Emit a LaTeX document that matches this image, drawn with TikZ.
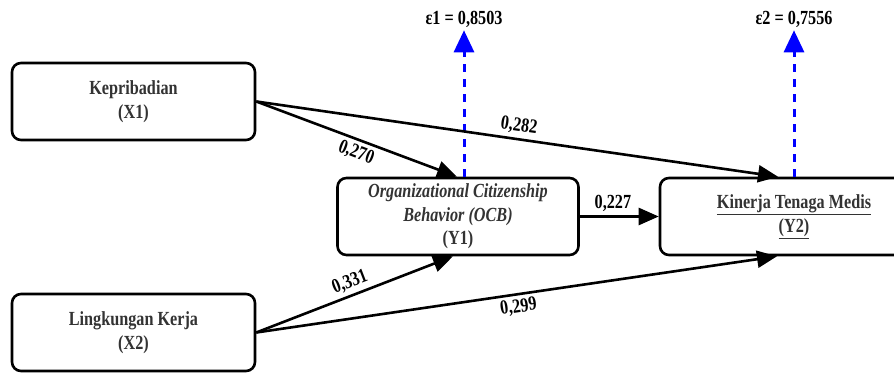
\documentclass[tikz,border=0pt]{standalone}
\usepackage{fontspec}
\setmainfont{Liberation Serif}[FakeStretch=0.81]
\usetikzlibrary{arrows.meta}

\begin{document}
\begin{tikzpicture}[x=1pt,y=1pt,
  varbox/.style={draw,line width=2.6pt,rounded corners=9pt,fill=white,
    minimum width=243pt,minimum height=77pt,inner sep=0pt,align=center,
    font=\fontsize{20}{23.5}\selectfont\bfseries,text=black!80},
  effect/.style={line width=2.6pt,-{Triangle[length=20pt,width=17pt]}},
  coef/.style={font=\fontsize{20}{23}\selectfont\bfseries,sloped,inner sep=3.5pt},
  errlabel/.style={font=\fontsize{20}{23}\selectfont\bfseries,anchor=base,inner sep=2pt},
  err/.style={blue,line width=3pt,dash pattern=on 8pt off 7pt,
    -{Triangle[length=22pt,width=20pt]}}]
\useasboundingbox (0,0) rectangle (894,374);
\clip (0,0) rectangle (894,374);
\node[varbox] (X1) at (133.5,272.5) {Kepribadian\\(X1)};
\node[varbox] (X2) at (133.5,41.5) {Lingkungan Kerja\\(X2)};
\node[varbox,minimum width=241pt] (Y1) at (458,157.5) {\textit{Organizational Citizenship}\\\textit{Behavior (OCB)}\\(Y1)};
\node[varbox,minimum width=268pt] (Y2) at (794,157.5) {\underline{Kinerja Tenaga Medis}\\\underline{(Y2)}};
\node[errlabel] (e1) at (464,349) {ε1 = 0,8503};
\node[errlabel] (e2) at (794,349) {ε2 = 0,7556};
\draw[err] ([xshift=6pt]Y1.north) -- (e1.south);
\draw[err] (Y2.north) -- (e2.south);
\draw[effect] (X1.east) -- node[coef,below,pos=0.52] {0,270} ([xshift=-1pt]Y1.north);
\draw[effect] (X1.east) -- node[coef,above] {0,282} ([xshift=-16pt]Y2.north);
\draw[effect] (Y1.east) -- node[coef,above,pos=0.42] {0,227} (Y2.west);
\draw[effect] (X2.east) -- node[coef,above] {0,331} ([xshift=-5pt]Y1.south);
\draw[effect] (X2.east) -- node[coef,below] {0,299} ([xshift=-17pt]Y2.south);
\end{tikzpicture}
\end{document}
